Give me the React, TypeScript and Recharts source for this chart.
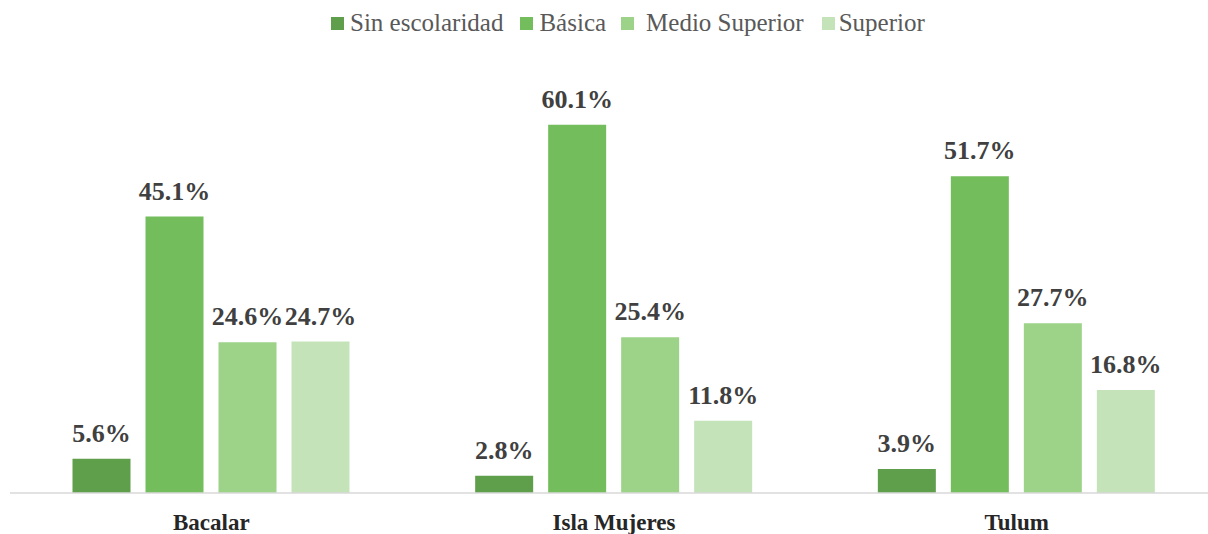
import React from 'react';
import { BarChart, Bar, XAxis, YAxis, Legend, LabelList } from 'recharts';

const municipios = ['Bacalar', 'Isla Mujeres', 'Tulum'];
const sinEscolaridad = [5.6, 2.8, 3.9];
const basica = [45.1, 60.1, 51.7];
const medioSuperior = [24.6, 25.4, 27.7];
const superior = [24.7, 11.8, 16.8];

const seriesNames = ['Sin escolaridad', 'Básica', 'Medio Superior', 'Superior'];
const seriesColors = ['#5f9e4a', '#73bd5c', '#9cd389', '#c4e3b9'];

const data = municipios.map((m, i) => ({
    municipio: m,
    s0: sinEscolaridad[i],
    s1: basica[i],
    s2: medioSuperior[i],
    s3: superior[i]
}));

const serif = '"Liberation Serif", "DejaVu Serif", serif';

// gap before each legend swatch (the third one sits a bit further out in the original)
const legendGaps = [0, 17, 15, 18];
const legendTextGaps = [6, 6, 12, 4];

const CategoryTick = ({ x, y, payload }: any) => (
    <text
        x={x}
        y={y + 35}
        textAnchor="middle"
        fill="#262626"
        fontSize={23}
        fontWeight="bold"
        fontFamily={serif}
    >
        {payload.value}
    </text>
);

const ValueLabel = (props: any) => {
    const { x, y, width, value } = props;
    return (
        <text
            x={x + width / 2}
            y={y - 17}
            textAnchor="middle"
            fill="#404040"
            fontSize={26}
            fontWeight="bold"
            fontFamily={serif}
        >
            {value.toFixed(1)}%
        </text>
    );
};

const CustomLegend = () => (
    <div style={{ display: 'flex', alignItems: 'center', fontFamily: serif, fontSize: 25, color: '#595959', whiteSpace: 'nowrap' }}>
        {seriesNames.map((name, i) => (
            <div key={name} style={{ display: 'flex', alignItems: 'center', marginLeft: legendGaps[i] }}>
                <span style={{ width: 13, height: 13, background: seriesColors[i], marginRight: legendTextGaps[i], display: 'inline-block' }} />
                <span>{name}</span>
            </div>
        ))}
    </div>
);

export default function App() {
    return (
        <div style={{ position: 'absolute', left: 0, top: 0, width: 1208, height: 534, overflow: 'hidden', background: '#fff' }}>
            <BarChart
                width={1228}
                height={534}
                data={data}
                // legend height (~27px) is added on top of this by recharts
                margin={{ top: 36, right: 10, left: 10, bottom: 0 }}
                barCategoryGap={62.5}
                barGap={15}
            >
                <XAxis
                    dataKey="municipio"
                    height={41}
                    tickLine={false}
                    tickSize={0}
                    axisLine={{ stroke: '#d9d9d9', strokeWidth: 1.5 }}
                    tick={<CategoryTick />}
                    interval={0}
                />
                <YAxis hide domain={[0, 70]} allowDataOverflow />
                <Legend
                    verticalAlign="top"
                    content={<CustomLegend />}
                    wrapperStyle={{ top: 9, left: 331, width: 'auto' }}
                />
                {seriesNames.map((name, i) => (
                    <Bar key={name} dataKey={`s${i}`} name={name} fill={seriesColors[i]} isAnimationActive={false}>
                        <LabelList dataKey={`s${i}`} content={<ValueLabel />} />
                    </Bar>
                ))}
            </BarChart>
        </div>
    );
}
